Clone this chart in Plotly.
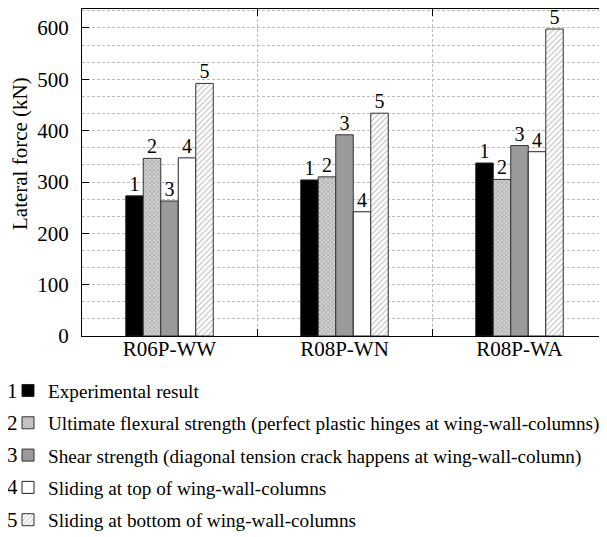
import plotly.graph_objects as go

# ---- data ----
categories = ["R06P-WW", "R08P-WN", "R08P-WA"]
experimental = [273, 304, 337]
flexural = [346, 310, 305]
shear = [263, 392, 371]
slide_top = [347, 242, 359]
slide_bottom = [492, 434, 598]
series_numbers = ["1", "2", "3", "4", "5"]
series_names = [
    "Experimental result",
    "Ultimate flexural strength (perfect plastic hinges at wing-wall-columns)",
    "Shear strength (diagonal tension crack happens at wing-wall-column)",
    "Sliding at top of wing-wall-columns",
    "Sliding at bottom of wing-wall-columns",
]
series_values = [experimental, flexural, shear, slide_top, slide_bottom]
y_ticks = [0, 100, 200, 300, 400, 500, 600]
y_title = "Lateral force (kN)"

FONT = "Liberation Serif"
# page has an 8px body margin, so figure is 8px smaller and shifted
W, H = 599, 529
ML, MR, MT, MB = 74, 0, 1, 201
PW, PH = W - ML - MR, H - MT - MB

markers = [
    dict(color="black", line=dict(color="#222", width=1)),
    dict(color="#c4c4c4", line=dict(color="#333", width=1),
         pattern=dict(shape="x", size=3, solidity=0.4, fgcolor="#6e6e6e", bgcolor="#d2d2d2")),
    dict(color="#9a9a9a", line=dict(color="#333", width=1)),
    dict(color="white", line=dict(color="#222", width=1)),
    dict(color="white", line=dict(color="#333", width=1),
         pattern=dict(shape="/", size=4, solidity=0.3, fgcolor="#8a8a8a", bgcolor="white")),
]

legend_centers = [382.5, 414.8, 447.1, 479.4, 511.7]  # figure px from top

fig = go.Figure()
for i, (num, name, vals, mk) in enumerate(zip(series_numbers, series_names, series_values, markers)):
    lg = "legend" if i == 0 else f"legend{i+1}"
    fig.add_trace(go.Bar(
        x=categories, y=vals, name=name,
        marker=mk, legend=lg, offsetgroup=str(i),
    ))
# bar-number labels, grouped the same way as the bars
for i, (num, vals) in enumerate(zip(series_numbers, series_values)):
    fig.add_trace(go.Scatter(
        x=categories, y=vals, mode="text", text=[num] * len(vals),
        textposition="top center", offsetgroup=str(i),
        textfont=dict(family=FONT, size=20, color="black"),
        showlegend=False, hoverinfo="skip", cliponaxis=False,
    ))

layout_legends = {}
for i, cy in enumerate(legend_centers):
    key = "legend" if i == 0 else f"legend{i+1}"
    layout_legends[key] = dict(
        x=0, xref="container", xanchor="left",
        y=1 - cy / H, yref="container", yanchor="middle",
        font=dict(family=FONT, size=19.2, color="black"),
        bgcolor="rgba(0,0,0,0)", borderwidth=0,
    )

annotations = []
for num, cy in zip(series_numbers, legend_centers):
    annotations.append(dict(
        text=num, x=(10.5 - ML) / PW, xref="paper", xanchor="right",
        y=(H - MB - cy) / PH, yref="paper", yanchor="middle", borderpad=0,
        showarrow=False, font=dict(family=FONT, size=21, color="black"),
    ))
annotations.append(dict(
    text=y_title, textangle=-90, x=(12 - ML) / PW, xref="paper", xanchor="center",
    y=(H - MB - 146) / PH, yref="paper", yanchor="middle",
    showarrow=False, font=dict(family=FONT, size=21, color="black"),
))

grid_dash = "3px,2px"
fig.update_layout(
    width=W, height=H,
    margin=dict(l=ML, r=MR, t=MT, b=MB, pad=0, autoexpand=False),
    paper_bgcolor="white", plot_bgcolor="white",
    font=dict(family=FONT, size=21, color="black"),
    barmode="group", bargap=0.5, bargroupgap=0,
    scattermode="group", scattergap=0.5,
    showlegend=True,
    annotations=annotations,
    **layout_legends,
)
fig.update_xaxes(
    type="category", range=[-0.5, 2.5],
    tickson="boundaries", ticks="inside", ticklen=7, tickcolor="black",
    showline=True, linecolor="black", linewidth=1, mirror="ticks",
    showgrid=True, gridcolor="#bdbdbd", griddash=grid_dash, gridwidth=1,
    tickfont=dict(family=FONT, size=21, color="black"),
    ticklabelstandoff=-6,
    zeroline=False, automargin=False,
)
fig.update_yaxes(
    range=[0, 637], tickvals=y_ticks, ticks="inside", ticklen=7, tickcolor="black",
    showline=True, linecolor="black", linewidth=1, mirror="ticks",
    showgrid=True, gridcolor="#bdbdbd", griddash=grid_dash, gridwidth=1,
    minor=dict(dtick=100 / 3, tick0=0, showgrid=True, gridcolor="#bdbdbd",
               griddash=grid_dash, gridwidth=1, ticks=""),
    tickfont=dict(family=FONT, size=21, color="black"),
    ticklabelstandoff=8,
    zeroline=False, automargin=False,
)

fig.write_html("out.html")
